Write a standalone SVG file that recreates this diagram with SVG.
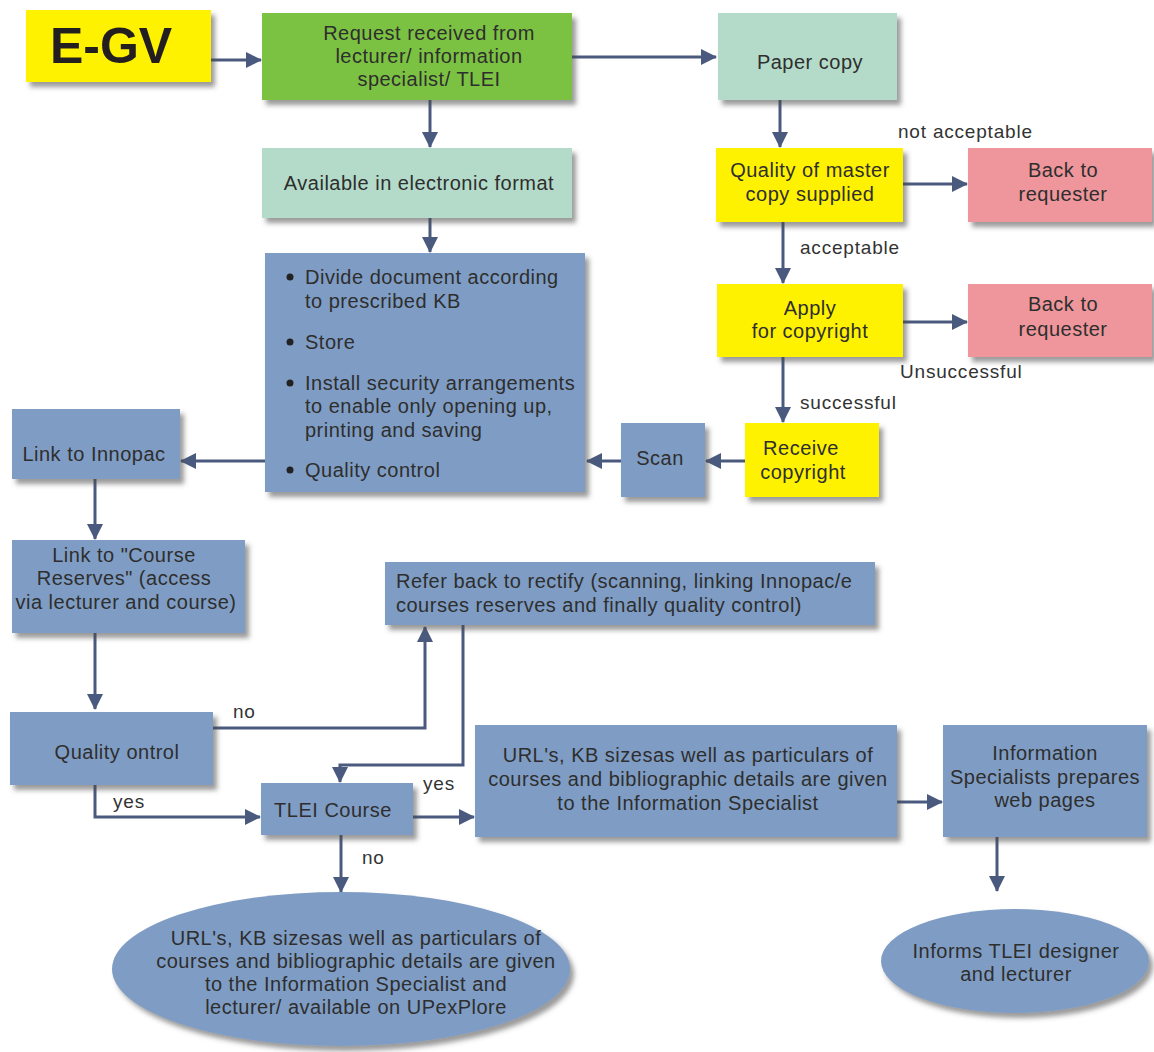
<svg xmlns="http://www.w3.org/2000/svg" width="1154" height="1052" viewBox="0 0 1154 1052">
  <defs>
    <filter id="shadow" x="-10%" y="-10%" width="130%" height="140%">
      <feDropShadow dx="4" dy="5" stdDeviation="2.5" flood-color="#4a4a4a" flood-opacity="0.55"/>
    </filter>
    <marker id="arrow" viewBox="0 0 16 16" refX="15" refY="8" markerWidth="16" markerHeight="16" markerUnits="userSpaceOnUse" orient="auto">
      <path d="M0,0 L16,8 L0,16 z" fill="#4a5a7e"/>
    </marker>
  </defs>
  <style>
    text { font-family: "Liberation Sans", Arial, sans-serif; font-size: 20px; fill: #2e2e2e; letter-spacing: 0.5px; }
    .c { text-anchor: middle; }
    .lbl { font-size: 19px; fill: #333; letter-spacing: 0.8px; }
    .yellow { fill: #fff200; }
    .green { fill: #7cc242; }
    .mint { fill: #b4dbc9; }
    .blue { fill: #7f9dc4; }
    .pink { fill: #ee969b; }
    .box { filter: url(#shadow); }
    .link { fill: none; stroke: #4a5a7e; stroke-width: 3; }
    .arr { marker-end: url(#arrow); }
  </style>
  <rect width="1154" height="1052" fill="#ffffff"/>

  <!-- connectors -->
  <g id="connectors">
    <path class="link arr" d="M211,60 H261"/>
    <path class="link arr" d="M572,57 H716"/>
    <path class="link arr" d="M430,100 V147"/>
    <path class="link arr" d="M430,218 V252"/>
    <path class="link arr" d="M780,100 V147"/>
    <path class="link arr" d="M903,184 H967"/>
    <path class="link arr" d="M783,222 V283"/>
    <path class="link arr" d="M903,322 H967"/>
    <path class="link arr" d="M783,357 V422"/>
    <path class="link arr" d="M745,461 H706"/>
    <path class="link arr" d="M621,461 H587"/>
    <path class="link arr" d="M265,461 H181"/>
    <path class="link arr" d="M95,479 V539"/>
    <path class="link arr" d="M95,633 V709"/>
    <path class="link arr" d="M213,728 H425 V627"/>
    <path class="link arr" d="M463,625 V765 H340 V782"/>
    <path class="link arr" d="M95,785 V817 H260"/>
    <path class="link arr" d="M413,817 H474"/>
    <path class="link arr" d="M897,802 H942"/>
    <path class="link arr" d="M341,835 V892"/>
    <path class="link arr" d="M997,837 V891"/>
  </g>

  <!-- connector labels -->
  <g id="labels">
    <text class="lbl" x="898" y="138">not acceptable</text>
    <text class="lbl" x="800" y="254">acceptable</text>
    <text class="lbl" x="900" y="378">Unsuccessful</text>
    <text class="lbl" x="800" y="409">successful</text>
    <text class="lbl" x="233" y="718">no</text>
    <text class="lbl" x="113" y="808">yes</text>
    <text class="lbl" x="423" y="790">yes</text>
    <text class="lbl" x="362" y="864">no</text>
  </g>

  <g id="egv">
    <rect class="box yellow" x="26" y="10" width="185" height="72"/>
    <text x="111" y="63" class="c" style="font-size:50px;font-weight:bold;fill:#231f20;letter-spacing:0">E-GV</text>
  </g>

  <g id="request">
    <rect class="box green" x="262" y="13" width="310" height="87"/>
    <text class="c" x="429" y="40">Request received from</text>
    <text class="c" x="429" y="63">lecturer/ information</text>
    <text class="c" x="429" y="86">specialist/ TLEI</text>
  </g>

  <g id="paper">
    <rect class="box mint" x="718" y="13" width="179" height="87"/>
    <text class="c" x="810" y="69">Paper copy</text>
  </g>

  <g id="electronic">
    <rect class="box mint" x="262" y="148" width="310" height="70"/>
    <text class="c" x="419" y="190">Available in electronic format</text>
  </g>

  <g id="process">
    <rect class="box blue" x="265" y="253" width="320" height="239"/>
    <circle cx="290" cy="277" r="3.5" fill="#222"/>
    <text x="305" y="284">Divide document according</text>
    <text x="305" y="308">to prescribed KB</text>
    <circle cx="290" cy="342" r="3.5" fill="#222"/>
    <text x="305" y="349">Store</text>
    <circle cx="290" cy="383" r="3.5" fill="#222"/>
    <text x="305" y="390">Install security arrangements</text>
    <text x="305" y="413">to enable only opening up,</text>
    <text x="305" y="437">printing and saving</text>
    <circle cx="290" cy="470" r="3.5" fill="#222"/>
    <text x="305" y="477">Quality control</text>
  </g>

  <g id="master">
    <rect class="box yellow" x="716" y="148" width="187" height="74"/>
    <text class="c" x="810" y="177">Quality of master</text>
    <text class="c" x="810" y="201">copy supplied</text>
  </g>

  <g id="back1">
    <rect class="box pink" x="968" y="148" width="184" height="74"/>
    <text class="c" x="1063" y="177">Back to</text>
    <text class="c" x="1063" y="201">requester</text>
  </g>

  <g id="apply">
    <rect class="box yellow" x="717" y="284" width="186" height="73"/>
    <text class="c" x="810" y="315">Apply</text>
    <text class="c" x="810" y="338">for copyright</text>
  </g>

  <g id="back2">
    <rect class="box pink" x="968" y="284" width="184" height="73"/>
    <text class="c" x="1063" y="311">Back to</text>
    <text class="c" x="1063" y="336">requester</text>
  </g>

  <g id="receive">
    <rect class="box yellow" x="745" y="423" width="134" height="74"/>
    <text class="c" x="801" y="455">Receive</text>
    <text class="c" x="803" y="479">copyright</text>
  </g>

  <g id="scan">
    <rect class="box blue" x="621" y="423" width="84" height="74"/>
    <text class="c" x="660" y="465">Scan</text>
  </g>

  <g id="innopac">
    <rect class="box blue" x="12" y="409" width="168" height="70"/>
    <text class="c" x="94" y="461">Link to Innopac</text>
  </g>

  <g id="reserves">
    <rect class="box blue" x="12" y="540" width="233" height="93"/>
    <text class="c" x="124" y="562">Link to "Course</text>
    <text class="c" x="124" y="585">Reserves" (access</text>
    <text class="c" x="126" y="609">via lecturer and course)</text>
  </g>

  <g id="quality">
    <rect class="box blue" x="10" y="712" width="203" height="73"/>
    <text class="c" x="117" y="759">Quality ontrol</text>
  </g>

  <g id="refer">
    <rect class="box blue" x="385" y="562" width="490" height="63"/>
    <text x="396" y="588">Refer back to rectify (scanning, linking Innopac/e</text>
    <text x="396" y="612">courses reserves and finally quality control)</text>
  </g>

  <g id="tlei">
    <rect class="box blue" x="261" y="783" width="152" height="52"/>
    <text class="c" x="333" y="817">TLEI Course</text>
  </g>

  <g id="urls">
    <rect class="box blue" x="475" y="725" width="422" height="112"/>
    <text class="c" x="688" y="762">URL's, KB sizesas well as particulars of</text>
    <text class="c" x="688" y="786">courses and bibliographic details are given</text>
    <text class="c" x="688" y="810">to the Information Specialist</text>
  </g>

  <g id="webpages">
    <rect class="box blue" x="943" y="725" width="204" height="112"/>
    <text class="c" x="1045" y="760">Information</text>
    <text class="c" x="1045" y="784">Specialists prepares</text>
    <text class="c" x="1045" y="807">web pages</text>
  </g>

  <g id="upexplore">
    <ellipse class="box blue" cx="341" cy="969" rx="229" ry="77"/>
    <text class="c" x="356" y="945">URL's, KB sizesas well as particulars of</text>
    <text class="c" x="356" y="968">courses and bibliographic details are given</text>
    <text class="c" x="356" y="991">to the Information Specialist and</text>
    <text class="c" x="356" y="1014">lecturer/ available on UPexPlore</text>
  </g>

  <g id="informs">
    <ellipse class="box blue" cx="1015" cy="961" rx="134" ry="52"/>
    <text class="c" x="1016" y="958">Informs TLEI designer</text>
    <text class="c" x="1016" y="981">and lecturer</text>
  </g>
</svg>
